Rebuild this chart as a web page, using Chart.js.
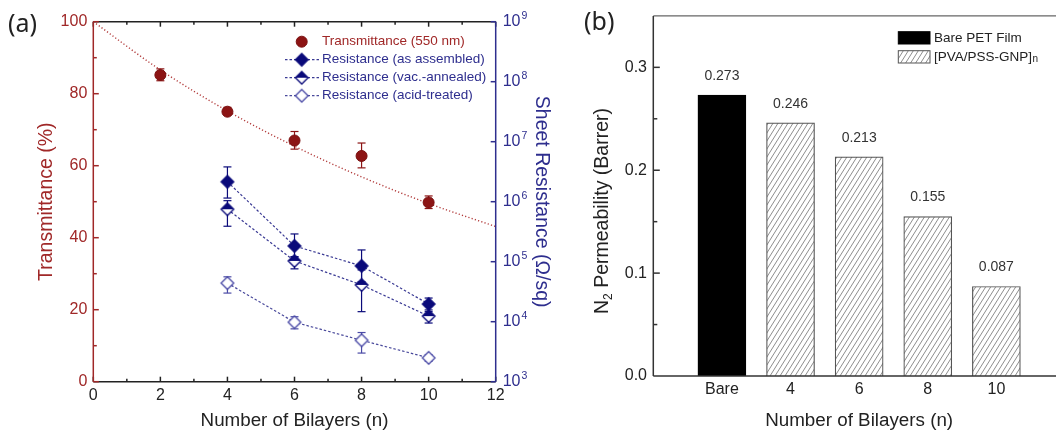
<!DOCTYPE html>
<html>
<head>
<meta charset="utf-8">
<script src="https://cdn.jsdelivr.net/npm/chart.js@4.4.1/dist/chart.umd.min.js"></script>
<style>
  html, body { margin: 0; padding: 0; background: #fff; overflow: hidden; }
  #wrap { position: relative; width: 1056px; height: 436px; overflow: hidden; }
  canvas { position: absolute; top: 0; }
  #chartA { left: 0; }
  #chartB { left: 560px; }
  .tag { position: absolute; font-family: 'Noto Sans', sans-serif; font-size: 25px; line-height: 25px; color: #222; }
</style>
</head>
<body>
<div id="wrap">
  <canvas id="chartA" width="560" height="436"></canvas>
  <canvas id="chartB" width="520" height="436"></canvas>
  <div class="tag" style="left:8px; top:10px">(a)</div>
  <div class="tag" style="left:584px; top:8px">(b)</div>
</div>
<script>
// ===== panel (a) data =====
const bilayersT  = [2, 4, 6, 8, 10];
const transmit   = [85.2, 75.0, 67.0, 62.7, 49.8];
const transmitLo = [83.6, 74.0, 64.6, 59.4, 48.1];
const transmitHi = [86.9, 76.2, 69.5, 66.3, 51.6];

// dotted trend line
const fitN = [0, 2, 4, 6, 8, 10, 12];
const fitT = [100, 86.6, 75.2, 65.4, 56.9, 49.5, 43.1];

const bilayersR = [4, 6, 8, 10];
const resAsm    = [2.15e6, 1.83e5, 8.5e4, 1.97e4];
const resAsmLo  = [1.15e6, 1.2e5, 4.6e4, 1.57e4];
const resAsmHi  = [3.8e6, 2.9e5, 1.57e5, 2.48e4];
const resVac    = [7.5e5, 1.03e5, 4.1e4, 1.24e4];
const resVacLo  = [3.9e5, 7.6e4, 1.47e4, 9.5e3];
const resVacHi  = [1.04e6, 1.21e5, 7.3e4, 1.47e4];
const resAcid   = [4.4e4, 9.8e3, 4.9e3, 2.5e3];
const resAcidLo = [3.0e4, 7.6e3, 3.0e3, 2.2e3];
const resAcidHi = [5.6e4, 1.21e4, 6.6e3, 2.8e3];
const resTicks  = [1e3, 1e4, 1e5, 1e6, 1e7, 1e8, 1e9];

// ===== panel (b) data =====
const categories   = ['Bare', '4', '6', '8', '10'];
const permeability = [0.273, 0.246, 0.213, 0.155, 0.087];
const permTicks    = [0, 0.1, 0.2, 0.3];

const FONT = "'Liberation Sans', Arial, Helvetica, sans-serif";
Chart.defaults.font.family = FONT;
Chart.defaults.color = '#222';

const RED = '#a02828';
const RED_MK = '#8c1414';
const NAVY = '#2e2e8e';
const NAVY_MK = '#0a0a7a';
const ACID = '#4b4ba6';

const pts = (xs, ys) => xs.map((x, i) => ({ x, y: ys[i] }));

// diamond markers: full / half (top filled) / hollow
function diamond(kind, color) {
  const c = document.createElement('canvas');
  c.width = c.height = 16;
  const g = c.getContext('2d');
  const m = 8, r = 6.3;
  const path = () => {
    g.beginPath();
    g.moveTo(m, m - r); g.lineTo(m + r, m); g.lineTo(m, m + r); g.lineTo(m - r, m);
    g.closePath();
  };
  path();
  g.fillStyle = kind === 'full' ? color : '#fff';
  g.fill();
  if (kind === 'half') {
    g.save(); path(); g.clip();
    g.fillStyle = color; g.fillRect(0, 0, 16, m);
    g.restore();
  }
  path();
  g.strokeStyle = color; g.lineWidth = 1.3; g.stroke();
  return c;
}

// hatch pattern for the LbL bars
function hatch() {
  const w = 5, h = 8;
  const c = document.createElement('canvas');
  c.width = w; c.height = h;
  const g = c.getContext('2d');
  g.fillStyle = '#fff'; g.fillRect(0, 0, w, h);
  g.strokeStyle = '#808080'; g.lineWidth = 0.9;
  for (const k of [-1, 0, 1]) {
    g.beginPath();
    g.moveTo(-w, 2 * h + k * h); g.lineTo(2 * w, -h + k * h);
    g.stroke();
  }
  return g.createPattern(c, 'repeat');
}

function seg(ctx, x1, y1, x2, y2) {
  ctx.beginPath(); ctx.moveTo(x1, y1); ctx.lineTo(x2, y2); ctx.stroke();
}

// ========== error bars ==========
const errorBars = {
  id: 'errorBars',
  beforeDatasetsDraw(chart) {
    const { ctx } = chart;
    chart.data.datasets.forEach((ds, i) => {
      if (!ds.errLo) return;
      const meta = chart.getDatasetMeta(i);
      const ys = chart.scales[ds.yAxisID];
      ctx.save();
      ctx.strokeStyle = ds.errColor;
      ctx.lineWidth = 1.2;
      meta.data.forEach((pt, j) => {
        const lo = ys.getPixelForValue(ds.errLo[j]);
        const hi = ys.getPixelForValue(ds.errHi[j]);
        seg(ctx, pt.x, lo, pt.x, hi);
        seg(ctx, pt.x - 4, lo, pt.x + 4, lo);
        seg(ctx, pt.x - 4, hi, pt.x + 4, hi);
      });
      ctx.restore();
    });
  }
};

// ========== frame, inward ticks and log labels for (a) ==========
const frameA = {
  id: 'frameA',
  afterDraw(chart) {
    const { ctx, chartArea: a, scales: { x, yT, yR } } = chart;
    ctx.save();
    ctx.lineWidth = 1.5;
    ctx.strokeStyle = '#222';
    seg(ctx, a.left, a.top, a.right, a.top);
    seg(ctx, a.left, a.bottom, a.right, a.bottom);
    for (let v = x.min; v <= x.max; v++) {
      const px = x.getPixelForValue(v);
      const L = v % 2 ? 3 : 5;
      seg(ctx, px, a.bottom, px, a.bottom - L);
      seg(ctx, px, a.top, px, a.top + L);
    }
    ctx.strokeStyle = RED;
    seg(ctx, a.left, a.top, a.left, a.bottom);
    for (let v = yT.min; v <= yT.max; v += 10) {
      const py = yT.getPixelForValue(v);
      seg(ctx, a.left, py, a.left + (v % 20 ? 3.5 : 5.5), py);
    }
    ctx.strokeStyle = NAVY;
    seg(ctx, a.right, a.top, a.right, a.bottom);
    ctx.fillStyle = NAVY;
    ctx.textBaseline = 'middle';
    ctx.textAlign = 'left';
    yR.ticks.forEach(t => {
      const py = yR.getPixelForValue(t.value);
      seg(ctx, a.right, py, a.right - 5, py);
      ctx.font = `16px ${FONT}`;
      ctx.fillText('10', a.right + 7, py);
      const w = ctx.measureText('10').width;
      ctx.font = `10.5px ${FONT}`;
      ctx.fillText(String(Math.round(Math.log10(t.value))), a.right + 8 + w, py - 6);
    });
    ctx.restore();
  }
};

function drawMarker(ctx, ds, x, y) {
  if (ds.pointStyle instanceof HTMLCanvasElement) {
    ctx.drawImage(ds.pointStyle, x - ds.pointStyle.width / 2, y - ds.pointStyle.height / 2);
    return;
  }
  ctx.beginPath();
  ctx.arc(x, y, ds.pointRadius, 0, Math.PI * 2);
  ctx.fillStyle = ds.pointBackgroundColor; ctx.fill();
  ctx.lineWidth = ds.pointBorderWidth; ctx.strokeStyle = ds.pointBorderColor; ctx.stroke();
}

// legend inside plot (a)
const legendA = {
  id: 'legendA',
  afterDraw(chart) {
    const { ctx } = chart;
    let row = 0;
    chart.data.datasets.forEach(ds => {
      if (ds.noLegend) return;
      const y = 41.7 + row * 18;
      row++;
      ctx.save();
      if (ds.showLine !== false) {
        ctx.strokeStyle = ds.borderColor;
        ctx.lineWidth = ds.borderWidth;
        ctx.setLineDash(ds.borderDash || []);
        seg(ctx, 285, y, 319, y);
        ctx.setLineDash([]);
      }
      drawMarker(ctx, ds, 301.7, y);
      ctx.fillStyle = ds.legendColor;
      ctx.font = `13.5px ${FONT}`;
      ctx.textBaseline = 'middle';
      ctx.fillText(ds.label, 322, y);
      ctx.restore();
    });
  }
};

const resLine = { borderWidth: 1.2, borderDash: [2.5, 2], pointRadius: 6, pointHoverRadius: 6, yAxisID: 'yR', legendColor: NAVY };

new Chart(document.getElementById('chartA'), {
  type: 'line',
  data: {
    datasets: [
      {
        label: 'Transmittance (550 nm)',
        data: pts(bilayersT, transmit),
        errLo: transmitLo, errHi: transmitHi, errColor: RED_MK,
        yAxisID: 'yT', showLine: false,
        pointStyle: 'circle', pointRadius: 5.5, pointBorderWidth: 1,
        pointBackgroundColor: RED_MK, pointBorderColor: '#7a0f0f',
        borderColor: RED_MK, legendColor: RED
      },
      {
        ...resLine,
        label: 'Resistance (as assembled)',
        data: pts(bilayersR, resAsm),
        errLo: resAsmLo, errHi: resAsmHi, errColor: NAVY_MK,
        borderColor: '#3a3a94', pointStyle: diamond('full', NAVY_MK)
      },
      {
        ...resLine,
        label: 'Resistance (vac.-annealed)',
        data: pts(bilayersR, resVac),
        errLo: resVacLo, errHi: resVacHi, errColor: NAVY_MK,
        borderColor: '#3a3a94', pointStyle: diamond('half', NAVY_MK)
      },
      {
        ...resLine,
        label: 'Resistance (acid-treated)',
        data: pts(bilayersR, resAcid),
        errLo: resAcidLo, errHi: resAcidHi, errColor: ACID,
        borderColor: '#4a4a9c', pointStyle: diamond('hollow', ACID)
      },
      {
        label: 'trend',
        noLegend: true,
        data: pts(fitN, fitT),
        yAxisID: 'yT',
        borderColor: '#b23c3c', borderWidth: 1.4, borderDash: [1.2, 2.2],
        pointRadius: 0, cubicInterpolationMode: 'monotone'
      }
    ]
  },
  options: {
    responsive: false,
    animation: false,
    events: [],
    layout: { padding: { top: 21.7, left: 0, right: 0, bottom: 0 } },
    plugins: { legend: { display: false }, tooltip: { enabled: false } },
    scales: {
      x: {
        type: 'linear', min: 0, max: 12,
        grid: { display: false, drawTicks: false },
        border: { display: false },
        ticks: { stepSize: 2, padding: 4, color: '#222', font: { size: 16 } },
        title: { display: true, text: 'Number of Bilayers (n)', color: '#222', font: { size: 18.8 }, padding: { top: 0, bottom: 3.5 } },
        afterFit: s => { s.height = 436 - 381.7; }
      },
      yT: {
        position: 'left', min: 0, max: 100,
        grid: { display: false, drawTicks: false },
        border: { display: false },
        ticks: { stepSize: 20, padding: 6, color: RED, font: { size: 16 } },
        title: { display: true, text: 'Transmittance (%)', color: RED, font: { size: 19.5 }, padding: { top: 35.3, bottom: 0 } },
        afterFit: s => { s.width = 93.3; }
      },
      yR: {
        type: 'logarithmic', position: 'right', min: 1e3, max: 1e9,
        grid: { display: false, drawTicks: false },
        border: { display: false },
        afterBuildTicks: s => { s.ticks = resTicks.map(v => ({ value: v })); },
        ticks: { display: false },
        title: { display: true, text: 'Sheet Resistance (Ω/sq)', color: NAVY, font: { size: 19.5 }, padding: { top: 6.6, bottom: 0 } },
        afterFit: s => { s.width = 560 - 495.7; }
      }
    }
  },
  plugins: [errorBars, frameA, legendA]
});

// ========== panel (b) ==========
const HATCH = hatch();
const Y_TITLE_B = 'Permeability (Barrer)';

const frameB = {
  id: 'frameB',
  afterDraw(chart) {
    const { ctx, chartArea: a, scales: { y } } = chart;
    ctx.save();
    ctx.strokeStyle = '#666'; ctx.lineWidth = 1.2;
    seg(ctx, a.left, a.top, a.right, a.top);
    seg(ctx, a.right, a.top, a.right, a.bottom);
    ctx.strokeStyle = '#333'; ctx.lineWidth = 1.5;
    seg(ctx, a.left, a.top, a.left, a.bottom);
    seg(ctx, a.left, a.bottom, a.right, a.bottom);
    for (let k = 1; k * 0.05 < y.max; k++) {
      const py = y.getPixelForValue(k * 0.05);
      seg(ctx, a.left, py, a.left + (k % 2 ? 4 : 6.5), py);
    }
    // y title with subscript
    ctx.fillStyle = '#222';
    ctx.textBaseline = 'middle';
    ctx.textAlign = 'left';
    ctx.translate(43, 211);
    ctx.rotate(-Math.PI / 2);
    ctx.font = `19.5px ${FONT}`;
    const wN = ctx.measureText('N').width;
    const wRest = ctx.measureText(' ' + Y_TITLE_B).width;
    ctx.font = `12px ${FONT}`;
    const w2 = ctx.measureText('2').width;
    let x0 = -(wN + w2 + wRest) / 2;
    ctx.font = `19.5px ${FONT}`;
    ctx.fillText('N', x0, 0);
    ctx.font = `12px ${FONT}`;
    ctx.fillText('2', x0 + wN, 6);
    ctx.font = `19.5px ${FONT}`;
    ctx.fillText(' ' + Y_TITLE_B, x0 + wN + w2, 0);
    ctx.restore();
  }
};

const barLabels = {
  id: 'barLabels',
  afterDatasetsDraw(chart) {
    const { ctx } = chart;
    ctx.save();
    ctx.fillStyle = '#333';
    ctx.font = `14px ${FONT}`;
    ctx.textAlign = 'center';
    ctx.textBaseline = 'middle';
    chart.data.datasets.forEach((ds, i) => {
      chart.getDatasetMeta(i).data.forEach((el, j) => {
        ctx.fillText(ds.data[j].y.toFixed(3), el.x, el.y - 19);
      });
    });
    ctx.restore();
  }
};

const legendB = {
  id: 'legendB',
  afterDraw(chart) {
    const { ctx } = chart;
    chart.data.datasets.forEach((ds, i) => {
      const top = 31.7 + i * 19;
      ctx.save();
      ctx.fillStyle = ds.backgroundColor;
      ctx.fillRect(338.3, top, 31.7, 12.3);
      ctx.strokeStyle = ds.borderColor; ctx.lineWidth = 1;
      ctx.strokeRect(338.3, top, 31.7, 12.3);
      ctx.fillStyle = '#222';
      ctx.font = `13.5px ${FONT}`;
      ctx.textBaseline = 'middle';
      ctx.fillText(ds.label, 374, top + 6.2);
      if (ds.labelSub) {
        const w = ctx.measureText(ds.label).width;
        ctx.font = `10px ${FONT}`;
        ctx.fillText(ds.labelSub, 374 + w + 0.5, top + 9);
      }
      ctx.restore();
    });
  }
};

new Chart(document.getElementById('chartB'), {
  type: 'bar',
  data: {
    datasets: [
      {
        label: 'Bare PET Film',
        data: [{ x: 1, y: permeability[0] }],
        backgroundColor: '#000', borderColor: '#000', borderWidth: 1,
        barThickness: 48, grouped: false
      },
      {
        label: '[PVA/PSS-GNP]',
        labelSub: 'n',
        data: permeability.slice(1).map((v, i) => ({ x: i + 2, y: v })),
        backgroundColor: HATCH, borderColor: '#555', borderWidth: 1.2,
        barThickness: 48, grouped: false
      }
    ]
  },
  options: {
    responsive: false,
    animation: false,
    events: [],
    layout: { padding: { top: 13.3, left: 0, right: 15, bottom: 0 } },
    plugins: { legend: { display: false }, tooltip: { enabled: false } },
    scales: {
      x: {
        type: 'linear', min: 0, max: categories.length + 1, offset: false,
        grid: { display: false, drawTicks: false, offset: false },
        border: { display: false },
        afterBuildTicks: s => { s.ticks = categories.map((c, i) => ({ value: i + 1 })); },
        ticks: { padding: 4.4, color: '#222', font: { size: 16 }, callback: (v, i) => categories[i] },
        title: { display: true, text: 'Number of Bilayers (n)', color: '#222', font: { size: 18.8 }, padding: { top: 0, bottom: 3.5 } },
        afterFit: s => { s.height = 436 - 376; }
      },
      y: {
        min: 0, max: 0.35,
        grid: { display: false, drawTicks: false },
        border: { display: false },
        afterBuildTicks: s => { s.ticks = permTicks.map(v => ({ value: v })); },
        ticks: { padding: 6.3, color: '#222', font: { size: 16 }, callback: v => v.toFixed(1) },
        afterFit: s => { s.width = 93.3; }
      }
    }
  },
  plugins: [frameB, barLabels, legendB]
});
</script>
</body>
</html>
